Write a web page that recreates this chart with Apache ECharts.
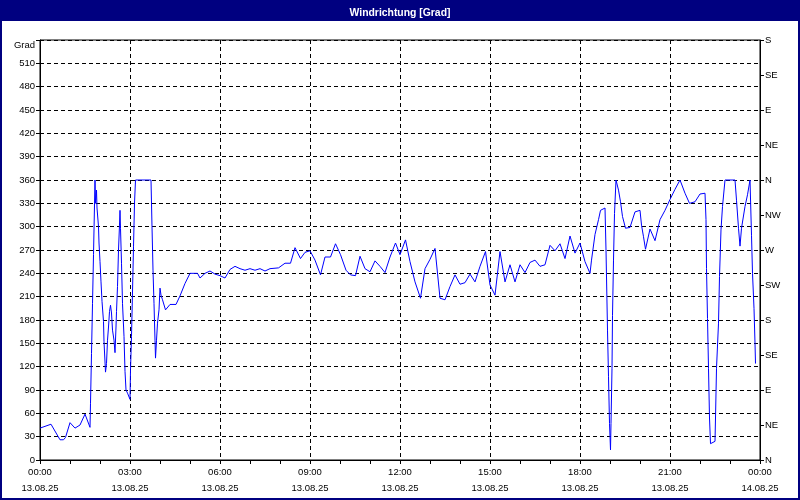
<!DOCTYPE html>
<html>
<head>
<meta charset="utf-8">
<script src="https://cdn.jsdelivr.net/npm/echarts@6/dist/echarts.min.js"></script>
<style>
html,body{margin:0;padding:0;background:#fff;}
#chart{width:800px;height:500px;}
</style>
</head>
<body>
<div id="chart"></div>
<script>
// time in minutes after 13.08.25 00:00
var minutes = [0,22,40,47,51,60,70,80,90,100,101,103,105,107,110,111,113,114,117,118,120,122,124,127,128,130,131,133,135,137,139,141,143,145,148,150,152,153,155,157,159,160,161,163,165,168,170,172,175,180,181,183,185,187,189,191,222,224,226,228,230,231,233,235,238,240,242,245,251,260,272,280,290,300,315,320,330,340,350,360,370,380,390,400,410,420,430,440,450,460,477,490,501,510,521,530,540,550,561,570,581,591,601,612,621,631,640,650,660,670,680,690,700,711,720,731,740,750,761,770,780,790,800,810,820,830,840,850,860,870,880,891,900,910,920,930,940,950,960,970,980,990,1000,1010,1020,1030,1040,1050,1060,1070,1080,1090,1100,1103,1110,1117,1121,1130,1132,1135,1137,1139,1141,1142,1144,1145,1147,1149,1152,1157,1161,1165,1171,1180,1190,1200,1203,1207,1211,1220,1230,1240,1250,1260,1270,1280,1290,1299,1310,1320,1330,1332,1333,1335,1337,1339,1341,1350,1351,1353,1357,1359,1362,1365,1370,1390,1393,1397,1400,1403,1410,1415,1420,1423,1425,1428,1430,1431];
var degrees = [41,46,26,26,29,48,41,45,59,42,73,137,201,264,360,330,347,324,300,279,255,229,204,178,152,126,113,124,154,171,191,199,189,167,154,138,171,191,223,270,302,321,298,253,201,159,114,90,86,78,116,159,216,274,330,360,360,300,244,201,154,131,154,176,193,221,212,206,193,200,200,211,227,240,240,234,240,243,239,237,234,245,249,246,244,246,244,246,243,246,247,253,253,273,259,267,269,257,238,261,261,278,264,244,238,237,262,246,242,256,249,241,261,279,264,283,255,229,208,246,258,272,208,206,223,238,226,228,239,229,249,268,225,212,268,229,251,229,251,241,254,257,249,251,276,269,278,259,288,266,279,255,240,257,290,309,321,324,270,167,107,47,13,47,118,186,257,317,360,347,332,313,298,299,319,321,302,287,271,297,282,309,321,335,348,360,343,330,332,342,343,309,246,182,118,54,21,24,54,118,176,236,296,326,360,360,334,298,275,298,326,341,360,289,240,195,150,124];
var compass = ['N','NE','E','SE','S','SW','W','NW','N','NE','E','SE','S'];
var dates = ['13.08.25','14.08.25'];
var titleText = 'Windrichtung [Grad]';
var unitLabel = 'Grad';

var font = '"Liberation Sans", Arial, sans-serif';
var fs = 9.5;
var data = minutes.map(function(m,i){return [m, degrees[i]];});
function pad(n){return (n<10?'0':'')+n;}

var chart = echarts.init(document.getElementById('chart'), null, {renderer:'canvas'});
chart.setOption({
  animation:false,
  backgroundColor:'#ffffff',
  graphic:[
    {type:'rect', shape:{x:0,y:0,width:800,height:21}, style:{fill:'#000080'}, z:0},
    {type:'rect', shape:{x:0,y:0,width:2,height:500}, style:{fill:'#000080'}, z:0},
    {type:'rect', shape:{x:798,y:0,width:2,height:500}, style:{fill:'#000080'}, z:0},
    {type:'rect', shape:{x:0,y:498,width:800,height:2}, style:{fill:'#000080'}, z:0}
  ],
  title:{text:titleText, left:'center', top:3,
    textStyle:{color:'#ffffff', fontSize:10.4, fontWeight:'bold', fontFamily:font}},
  grid:{left:40, right:40, top:40, bottom:40, show:true, borderColor:'#000', borderWidth:1, backgroundColor:'#ffffff'},
  xAxis:{type:'value', min:0, max:1440, interval:180,
    axisLine:{show:true, lineStyle:{color:'#000', width:1}},
    axisTick:{show:true, length:4, lineStyle:{color:'#000'}},
    minorTick:{show:true, splitNumber:3, length:4, lineStyle:{color:'#000'}},
    splitLine:{show:true, lineStyle:{color:'#000', type:[4,3], width:1}},
    axisLabel:{color:'#000', fontSize:fs, fontFamily:font, lineHeight:16, margin:4,
      showMinLabel:true, showMaxLabel:true,
      formatter:function(v){
        var d = v>=1440 ? dates[1] : dates[0];
        var mm = v % 1440;
        return pad(Math.floor(mm/60))+':'+pad(mm%60)+'\n'+d;
      }}
  },
  yAxis:[
    {type:'value', position:'left', min:0, max:540, interval:30,
      name:unitLabel, nameLocation:'end', nameGap:-5,
      nameTextStyle:{color:'#000', fontSize:fs, fontFamily:font, align:'right', verticalAlign:'middle', padding:[0,5,0,0]},
      axisLine:{show:true, lineStyle:{color:'#000'}},
      axisTick:{show:true, length:4, lineStyle:{color:'#000'}},
      splitLine:{show:true, lineStyle:{color:'#000', type:[4,3], width:1}},
      axisLabel:{color:'#000', fontSize:fs, fontFamily:font, margin:5,
        formatter:function(v){return v===540 ? '' : String(v);}}
    },
    {type:'value', position:'right', min:0, max:540, interval:45,
      axisLine:{show:true, lineStyle:{color:'#000'}},
      axisTick:{show:true, length:4, lineStyle:{color:'#000'}},
      splitLine:{show:false},
      axisLabel:{color:'#000', fontSize:fs, fontFamily:font, margin:5,
        formatter:function(v){return compass[Math.round(v/45)];}}
    }
  ],
  series:[{type:'line', data:data, showSymbol:false, symbol:'none',
    lineStyle:{color:'#0000ff', width:1}, itemStyle:{color:'#0000ff'}, z:3}]
});
</script>
</body>
</html>
